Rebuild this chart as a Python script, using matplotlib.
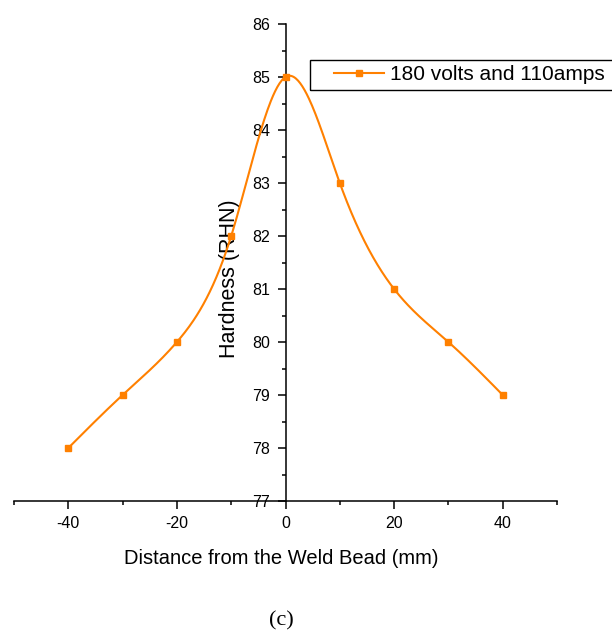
import numpy as np
import matplotlib
matplotlib.use('Agg')
import matplotlib.pyplot as plt
import matplotlib.ticker as ticker
from matplotlib.patches import Rectangle

# data
distance = [-40, -30, -20, -10, 0, 10, 20, 30, 40]
hardness = [78, 79, 80, 82, 85, 83, 81, 80, 79]
series_label = '180 volts and 110amps'

ORANGE = '#FF8000'
plt.rcParams['font.family'] = ['Liberation Sans', 'DejaVu Sans']
plt.rcParams['axes.unicode_minus'] = False


def natural_spline(x, y, xs):
    """Natural cubic spline through (x, y), evaluated at xs (for a smooth line)."""
    x = np.asarray(x, float)
    y = np.asarray(y, float)
    n = len(x)
    h = np.diff(x)
    A = np.zeros((n, n))
    r = np.zeros(n)
    A[0, 0] = A[-1, -1] = 1.0
    for i in range(1, n - 1):
        A[i, i - 1] = h[i - 1]
        A[i, i] = 2 * (h[i - 1] + h[i])
        A[i, i + 1] = h[i]
        r[i] = 6 * ((y[i + 1] - y[i]) / h[i] - (y[i] - y[i - 1]) / h[i - 1])
    M = np.linalg.solve(A, r)
    k = np.clip(np.searchsorted(x, xs) - 1, 0, n - 2)
    t0 = xs - x[k]
    t1 = x[k + 1] - xs
    hk = h[k]
    return (M[k] * t1 ** 3 / (6 * hk) + M[k + 1] * t0 ** 3 / (6 * hk)
            + (y[k] / hk - M[k] * hk / 6) * t1
            + (y[k + 1] / hk - M[k + 1] * hk / 6) * t0)


fig = plt.figure(figsize=(6.12, 6.35), dpi=100)
ax = fig.add_axes([14 / 612, 134 / 635, 543 / 612, 477 / 635])

xs = np.linspace(min(distance), max(distance), 400)
ax.plot(xs, natural_spline(distance, hardness, xs), color=ORANGE, lw=1.5,
        zorder=3, clip_on=False)
ax.plot(distance, hardness, 's', color=ORANGE, ms=5, zorder=4, clip_on=False)

ax.set_xlim(-50, 50)
ax.set_ylim(77, 86)

for s in ('top', 'right'):
    ax.spines[s].set_visible(False)
ax.spines['left'].set_position(('data', 0))
for s in ('left', 'bottom'):
    ax.spines[s].set_linewidth(1.1)
    ax.spines[s].set_zorder(2)

ax.xaxis.set_major_locator(ticker.FixedLocator([-40, -20, 0, 20, 40]))
ax.xaxis.set_minor_locator(ticker.FixedLocator([-50, -30, -10, 10, 30, 50]))
ax.yaxis.set_major_locator(ticker.MultipleLocator(1))
ax.yaxis.set_minor_locator(ticker.MultipleLocator(0.5))
ax.tick_params(which='major', direction='out', length=6, width=1.1, labelsize=11.5)
ax.tick_params(which='minor', direction='out', length=3, width=1.1)
ax.tick_params(axis='x', pad=5)
ax.tick_params(axis='y', pad=5)

ax.set_ylabel('Hardness (RHN)', fontsize=15.5)
ax.yaxis.set_label_coords(0.416, 0.466)
fig.text(281 / 612, 1 - 558 / 635, 'Distance from the Weld Bead (mm)',
         fontsize=14.5, ha='center', va='center')
fig.text(281 / 612, 1 - 621 / 635, '(c)', fontsize=16, ha='center',
         va='center', family=['Liberation Serif', 'DejaVu Serif'])

# legend: open box running off the right edge, as in the reference
fig.patches.append(Rectangle((310 / 612, 1 - 90 / 635), 320 / 612, 30 / 635,
                             transform=fig.transFigure, fill=False,
                             edgecolor='black', lw=1.0, clip_on=False))
leg = fig.legend(handles=ax.get_lines()[:1], labels=[series_label],
                 loc='center left', bbox_to_anchor=(319 / 612, 1 - 75 / 635),
                 frameon=False, fontsize=15, handlelength=2.4,
                 handletextpad=0.3, borderpad=0.2)
leg.legend_handles[0].set_marker('s')
leg.legend_handles[0].set_markersize(5)

fig.savefig('out.png', dpi=100)
